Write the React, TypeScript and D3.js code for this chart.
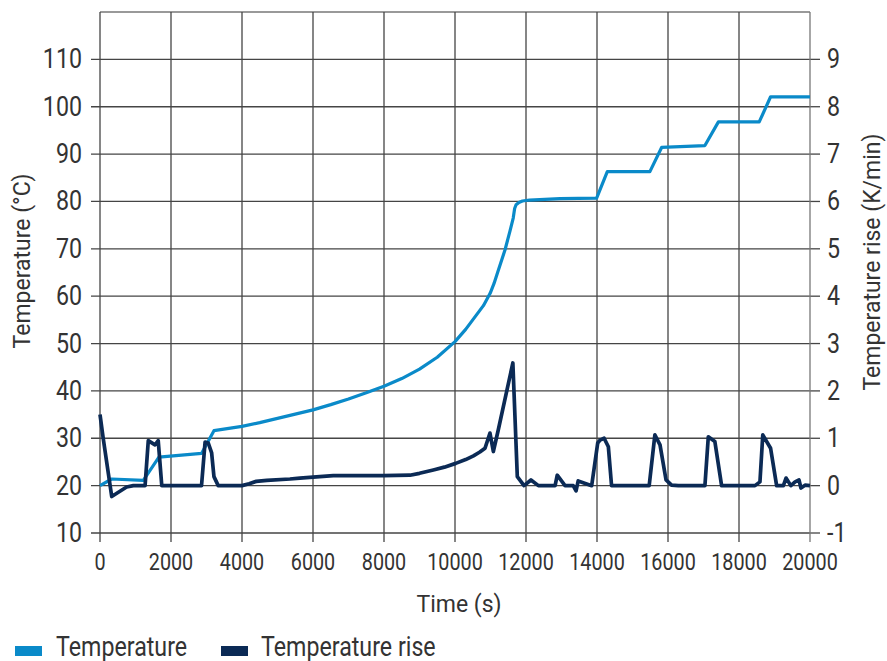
import React from "react";
import * as d3 from "d3";

// temperature (°C), left axis
const tempTime = [0, 330, 1220, 1660, 2860, 3210, 4000, 4500, 5000, 5500, 6000, 6500, 7000, 7500, 8000, 8500, 9000, 9500, 10000, 10300, 10600, 10800, 10990, 11100, 11200, 11410, 11550, 11640, 11680, 11720, 11800, 11900, 12100, 12960, 13990, 14290, 15490, 15820, 17040, 17420, 18570, 18890, 20000];
const tempValues = [20, 21.4, 21.1, 26, 26.8, 31.6, 32.5, 33.3, 34.2, 35.1, 36.0, 37.1, 38.3, 39.6, 41.0, 42.6, 44.6, 47.1, 50.4, 53.0, 56.0, 58.0, 60.6, 62.7, 65.0, 69.8, 73.8, 76.5, 78.5, 79.3, 79.8, 80.1, 80.3, 80.6, 80.7, 86.3, 86.3, 91.4, 91.8, 96.8, 96.8, 102.1, 102.1];

// temperature rise (K/min), right axis
const riseTime = [0, 90, 330, 750, 940, 1270, 1360, 1550, 1640, 1740, 2860, 2960, 3050, 3145, 3210, 3330, 4000, 4200, 4400, 4700, 5350, 5630, 6000, 6570, 7980, 8730, 9000, 9390, 9700, 10020, 10300, 10520, 10700, 10845, 10985, 11080, 11220, 11630, 11755, 11945, 12140, 12350, 12820, 12880, 13100, 13330, 13410, 13470, 13850, 14020, 14085, 14200, 14320, 14410, 15470, 15630, 15775, 15945, 16100, 16290, 17040, 17135, 17320, 17510, 18450, 18590, 18670, 18890, 19060, 19250, 19325, 19460, 19580, 19690, 19745, 19860, 20000];
const riseValues = [1.5, 1.0, -0.23, -0.03, 0, 0, 0.95, 0.86, 0.95, 0, 0, 0.92, 0.9, 0.69, 0.19, 0, 0, 0.04, 0.09, 0.11, 0.14, 0.16, 0.18, 0.21, 0.21, 0.22, 0.26, 0.33, 0.39, 0.47, 0.55, 0.63, 0.71, 0.79, 1.11, 0.72, 1.18, 2.59, 0.19, 0, 0.12, 0, 0, 0.22, 0, 0, -0.11, 0.1, 0, 0.9, 0.96, 1.0, 0.82, 0, 0, 1.07, 0.86, 0.12, 0.01, 0, 0, 1.03, 0.93, 0, 0, 0.08, 1.07, 0.79, 0, 0, 0.16, 0, 0.08, 0.12, -0.05, 0.01, 0];

const xTicks = [0, 2000, 4000, 6000, 8000, 10000, 12000, 14000, 16000, 18000, 20000];
const leftTicks = [10, 20, 30, 40, 50, 60, 70, 80, 90, 100, 110];
const rightTicks = [-1, 0, 1, 2, 3, 4, 5, 6, 7, 8, 9];

const LIGHT = "#0a8ac9";
const DARK = "#0b2a55";
const GRID = "#454545";
const TEXT = "#333";
const FONT = "Roboto, sans-serif";
const SQUEEZE = 0.86;

const Narrow = ({ x, y, anchor, size, children }: any) => (
  <text
    transform={`translate(${x},${y}) scale(${SQUEEZE},1)`}
    textAnchor={anchor}
    fontSize={size}
    fontFamily={FONT}
    fill={TEXT}
  >
    {children}
  </text>
);

const App = () => {
  const width = 887;
  const height = 661;
  const x = d3.scaleLinear().domain([0, 20000]).range([100, 810]);
  const yL = d3.scaleLinear().domain([10, 120]).range([533, 12]);
  const yR = d3.scaleLinear().domain([-1, 10]).range([533, 12]);

  const tempLine = d3
    .line<number>()
    .x((d, i) => x(tempTime[i]))
    .y(d => yL(d));
  const riseLine = d3
    .line<number>()
    .x((d, i) => x(riseTime[i]))
    .y(d => yR(d));

  return (
    <svg
      width={width}
      height={height}
      style={{ position: "absolute", left: 0, top: 0, background: "#fff" }}
    >
      {/* grid */}
      <line x1={100} x2={810} y1={12} y2={12} stroke="#999" strokeWidth={2} />
      {leftTicks.map(t => (
        <line key={"h" + t} x1={91} x2={810} y1={yL(t)} y2={yL(t)} stroke={GRID} strokeWidth={1.3} />
      ))}
      {rightTicks.map(t => (
        <line key={"r" + t} x1={810} x2={820} y1={yR(t)} y2={yR(t)} stroke={GRID} strokeWidth={1.3} />
      ))}
      {xTicks.map(t => (
        <line key={"v" + t} x1={x(t)} x2={x(t)} y1={12} y2={542} stroke={t === 20000 ? "#777" : GRID} strokeWidth={1.3} />
      ))}

      {/* series */}
      <path d={tempLine(tempValues) || ""} fill="none" stroke={LIGHT} strokeWidth={3.2} strokeLinejoin="round" />
      <path d={riseLine(riseValues) || ""} fill="none" stroke={DARK} strokeWidth={3.7} strokeLinejoin="round" />

      {/* tick labels */}
      {leftTicks.map(t => (
        <Narrow key={"lt" + t} x={82} y={yL(t) + 9} anchor="end" size={27}>{t}</Narrow>
      ))}
      {rightTicks.map(t => (
        <Narrow key={"rt" + t} x={827} y={yR(t) + 9} anchor="start" size={27}>{t}</Narrow>
      ))}
      {xTicks.map(t => (
        <Narrow key={"xt" + t} x={x(t)} y={570} anchor="middle" size={23}>{t}</Narrow>
      ))}

      {/* axis titles */}
      <text x={459} y={612} textAnchor="middle" fontSize={23} fontFamily={FONT} fill={TEXT}>Time (s)</text>
      <text transform="translate(30,261) rotate(-90)" textAnchor="middle" fontSize={23} fontFamily={FONT} fill={TEXT}>Temperature (°C)</text>
      <text transform="translate(880,262) rotate(-90)" textAnchor="middle" fontSize={23} fontFamily={FONT} fill={TEXT}>Temperature rise (K/min)</text>

      {/* legend */}
      <rect x={15} y={646} width={27} height={10} fill={LIGHT} />
      <Narrow x={56} y={656} anchor="start" size={27}>Temperature</Narrow>
      <rect x={221} y={646} width={27} height={10} fill={DARK} />
      <Narrow x={261} y={656} anchor="start" size={27}>Temperature rise</Narrow>
    </svg>
  );
};

export default App;
